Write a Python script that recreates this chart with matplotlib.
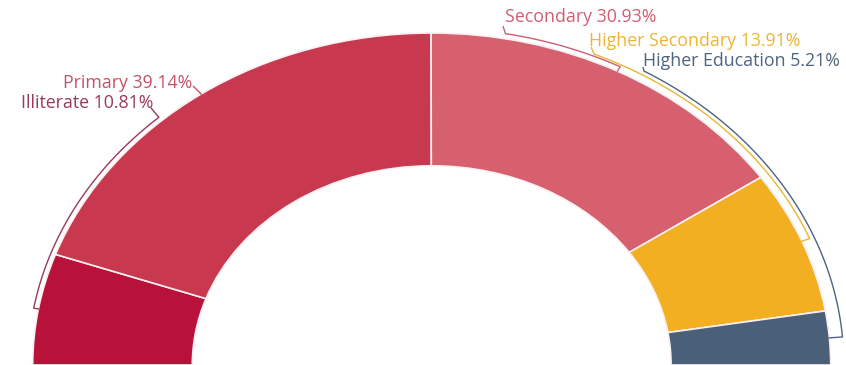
import numpy as np
import matplotlib
matplotlib.use("Agg")
import matplotlib.pyplot as plt

# education level shares (%)
levels = ["Illiterate", "Primary", "Secondary", "Higher Secondary", "Higher Education"]
shares = [10.81, 39.14, 30.93, 13.91, 5.21]

slice_colors = ["#B8123A", "#C8394F", "#D6606D", "#F2AF22", "#4A5F78"]
label_colors = ["#9A3A57", "#C25468", "#CF5E70", "#EDB533", "#4F6480"]

# label placement (pixel position of the anchored text edge, alignment)
label_pos = [(153, 103, "right"), (192, 83, "right"), (505, 17, "left"),
             (589, 41, "left"), (643, 61, "left")]
# connector: start point (pixel), radius of the guide arc, angle where the arc starts
conn_start = [(151, 108), (193, 86), (503, 26), (591, 47), (643, 67)]
conn_arc_r = [1.012, 1.005, 1.015, 1.021, 1.033]
conn_arc_a0 = [132.5, None, 79.5, 66.5, 59.0]

W, H = 846, 365
cx, rx, ry = 431.7, 399.0, 332.0

fig = plt.figure(figsize=(W / 100, H / 100), dpi=100)
ax = fig.add_axes([0, 0, 1, 1])

# half donut: a hidden wedge fills the lower half
vals = shares + [sum(shares)]
wedges, _ = ax.pie(vals, colors=slice_colors + ["white"], startangle=180,
                   counterclock=False, radius=1.0,
                   wedgeprops=dict(width=0.4, edgecolor="#FCEFF1", linewidth=1.2))
wedges[-1].set_visible(False)

ax.set_aspect("auto")
ax.set_xlim(-cx / rx, (W - cx) / rx)
ax.set_ylim(0, H / ry)
ax.axis("off")


def to_data(px, py):
    return (px - cx) / rx, (H - py) / ry


def polar(r, a):
    t = np.radians(a)
    return r * np.cos(t), r * np.sin(t)


total = sum(vals)
start = 180.0
for i, (name, v) in enumerate(zip(levels, shares)):
    span = v / total * 360
    mid = start - span / 2
    start -= span

    lx, ly, ha = label_pos[i]
    ax.text(lx / W, 1 - ly / H, f"{name} {v:.2f}%", transform=ax.transAxes,
            ha=ha, va="center", fontsize=12.8, family="Open Sans",
            color=label_colors[i])

    sx, sy = to_data(*conn_start[i])
    r = conn_arc_r[i]
    a0 = conn_arc_a0[i] if conn_arc_a0[i] is not None else mid
    angs = np.linspace(a0, mid, 60)
    xs = [sx] + list(r * np.cos(np.radians(angs)))
    ys = [sy] + list(r * np.sin(np.radians(angs)))
    ex, ey = polar(0.998, mid)
    xs.append(ex)
    ys.append(ey)
    ax.plot(xs, ys, color=label_colors[i], lw=1.0, solid_capstyle="butt")

fig.savefig("out.png", dpi=100, facecolor="white")
